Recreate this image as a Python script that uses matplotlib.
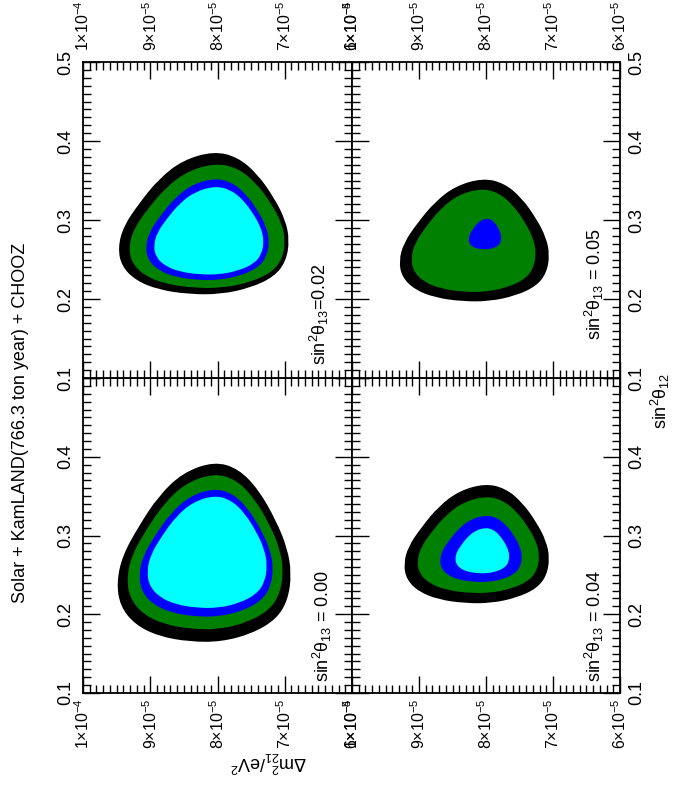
import numpy as np
import matplotlib
matplotlib.use('Agg')
import matplotlib.pyplot as plt
from matplotlib.ticker import MultipleLocator
from matplotlib.path import Path
from matplotlib.patches import PathPatch

plt.rcParams['font.family'] = ['Liberation Sans', 'DejaVu Sans']
plt.rcParams['mathtext.fontset'] = 'custom'
plt.rcParams['mathtext.rm'] = 'Liberation Sans'
plt.rcParams['mathtext.it'] = 'Liberation Sans:italic'
plt.rcParams['mathtext.bf'] = 'Liberation Sans:bold'

# ---- data ----
# panels: sin^2 theta13 values
theta13 = ['0.00', '0.02', '0.04', '0.05']
panel_text = ['sin$^{2}$θ$_{13}$ = 0.00', 'sin$^{2}$θ$_{13}$=0.02',
              'sin$^{2}$θ$_{13}$ = 0.04', 'sin$^{2}$θ$_{13}$ = 0.05']

# outline of an allowed region, normalised to its own box
# u along sin^2 theta12, v along dm^2
shape_u = [1.000, 0.960, 0.842, 0.672, 0.520, 0.379, 0.232, 0.124, 0.045, 0.000,
           0.000, 0.031, 0.096, 0.198, 0.328, 0.475, 0.638, 0.808, 0.938]
shape_v = [0.442, 0.303, 0.187, 0.088, 0.024, 0.000, 0.020, 0.088, 0.227, 0.402,
           0.582, 0.761, 0.896, 0.980, 1.000, 0.968, 0.876, 0.761, 0.622]

# extents of each contour per panel: (sin^2 theta12 lo, hi), (dm^2 lo, hi in 1e-5 eV^2)
black_s12 = [(0.165, 0.394), (0.206, 0.387), (0.214, 0.366), (0.197, 0.353)]
black_dm2 = [(6.90, 9.50), (6.93, 9.48), (7.05, 9.23), (7.05, 9.30)]
green_s12 = [(0.181, 0.379), (0.214, 0.372), (0.227, 0.350), (0.209, 0.340)]
green_dm2 = [(7.02, 9.35), (6.99, 9.32), (7.20, 9.03), (7.25, 9.12)]
blue_s12 = [(0.197, 0.360), (0.224, 0.353), (0.241, 0.326), (0.263, 0.302)]
blue_dm2 = [(7.17, 9.17), (7.23, 9.07), (7.46, 8.69), (7.77, 8.26)]
cyan_s12 = [(0.208, 0.351), (0.231, 0.343), (0.252, 0.310), None]
cyan_dm2 = [(7.26, 9.05), (7.31, 8.95), (7.65, 8.46), None]

dm2_ticks = [10, 9, 8, 7, 6]
dm2_labels = [r'$1{\times}10^{-4}$', r'$9{\times}10^{-5}$', r'$8{\times}10^{-5}$',
              r'$7{\times}10^{-5}$', r'$6{\times}10^{-5}$']
s12_ticks = [0.1, 0.2, 0.3, 0.4, 0.5]
s12_labels = ['0.1', '0.2', '0.3', '0.4', '0.5']


def smooth_patch(x, y, color):
    # closed outline drawn with quadratic curves through the edge midpoints
    pts = np.column_stack([x, y])
    nxt = np.roll(pts, -1, axis=0)
    mids = 0.5 * (pts + nxt)
    verts = [mids[-1]]
    codes = [Path.MOVETO]
    for k in range(len(pts)):
        verts += [pts[k], mids[k]]
        codes += [Path.CURVE3, Path.CURVE3]
    verts.append(mids[-1])
    codes.append(Path.CLOSEPOLY)
    return PathPatch(Path(verts, codes), facecolor=color, lw=0)


# ---- figure ----
fig = plt.figure(figsize=(6.75, 7.9), dpi=100)

# figure is drawn turned on its side: x = dm^2 (decreasing), y = sin^2 theta12
boxes = {'0.00': [0.1230, 0.1228, 0.3985, 0.3987],
         '0.02': [0.1230, 0.5215, 0.3985, 0.4000],
         '0.04': [0.5215, 0.1228, 0.3970, 0.3987],
         '0.05': [0.5215, 0.5215, 0.3970, 0.4000]}
label_pos = {'0.00': (0.89, 0.035), '0.02': (0.88, 0.04),
             '0.04': (0.905, 0.035), '0.05': (0.905, 0.12)}

layers = [(black_s12, black_dm2, 'black'), (green_s12, green_dm2, '#008000'),
          (blue_s12, blue_dm2, '#0000ff'), (cyan_s12, cyan_dm2, '#00ffff')]

for i, key in enumerate(theta13):
    ax = fig.add_axes(boxes[key])
    u = np.array(shape_u)
    v = np.array(shape_v)
    for s_ext, d_ext, col in layers:
        if s_ext[i] is None:
            continue
        s = s_ext[i][0] + u * (s_ext[i][1] - s_ext[i][0])
        d = d_ext[i][0] + v * (d_ext[i][1] - d_ext[i][0])
        ax.add_patch(smooth_patch(d * 1e-5, s, col))

    ax.set_xlim(1e-4, 6e-5)
    ax.set_ylim(0.1, 0.5)
    ax.set_xticks([t * 1e-5 for t in dm2_ticks])
    ax.set_xticklabels(dm2_labels)
    ax.xaxis.set_minor_locator(MultipleLocator(1e-6))
    ax.set_yticks(s12_ticks)
    ylabs = list(s12_labels)
    if key in ('0.00', '0.04'):
        ylabs[-1] = ''
    ax.set_yticklabels(ylabs)
    ax.yaxis.set_minor_locator(MultipleLocator(0.01))

    top_row = key in ('0.02', '0.05')
    left_col = key in ('0.00', '0.02')
    ax.tick_params(which='both', direction='in', top=True, bottom=True,
                   left=True, right=True, width=1, color='black')
    ax.tick_params(which='major', length=12)
    ax.tick_params(which='minor', length=6)
    ax.tick_params(axis='x', labelrotation=90, labelsize=11.5,
                   labeltop=top_row, labelbottom=not top_row,
                   pad=8 if top_row else 4)
    ax.tick_params(axis='y', labelrotation=90, labelsize=13,
                   labelleft=left_col, labelright=not left_col, pad=6)
    for lab in ax.get_yticklabels():
        lab.set_verticalalignment('center')
    for sp in ax.spines.values():
        sp.set_linewidth(1.3)

    lx, ly = label_pos[key]
    ax.text(lx, ly, panel_text[i], rotation=90, ha='center', va='bottom',
            fontsize=13, transform=ax.transAxes)

fig.text(0.030, 0.465, 'Solar + KamLAND(766.3 ton year) + CHOOZ', rotation=90,
         ha='center', va='center', fontsize=13)
fig.text(0.979, 0.492, 'sin$^{2}$θ$_{12}$', rotation=90, ha='center', va='center',
         fontsize=13)
fig.text(0.397, 0.036, r'Δm$^{2}_{21}$/eV$^{2}$', rotation=180, ha='center',
         va='center', fontsize=13)

fig.savefig('out.png', dpi=100)
